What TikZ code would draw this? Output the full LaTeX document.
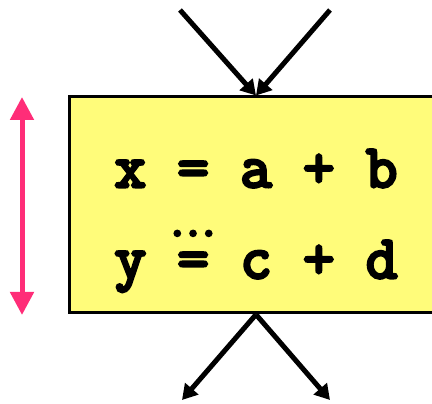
\documentclass[tikz,border=0pt]{standalone}
\usepackage{fontspec}
\setmonofont{Latin Modern Mono}[BoldFont={Latin Modern Mono},BoldFeatures={FakeBold=5}]
\usepackage{tikz}
\usetikzlibrary{positioning,arrows.meta}
\definecolor{cBox}{RGB}{255,252,122}
\definecolor{cSpan}{RGB}{255,45,120}

\begin{document}
\begin{tikzpicture}[x=1pt,y=1pt]
\tikzset{
 blk/.style={draw,line width=3pt,fill=cBox,minimum width=374pt,minimum height=216pt,inner sep=0},
 code/.style={font=\fontsize{61}{66}\selectfont\ttfamily\bfseries,inner sep=0,anchor=base},
 ar/.style={-{Triangle[length=15pt,width=17pt]},line width=5pt},
 span/.style={{Triangle[length=23pt,width=23pt]}-{Triangle[length=23pt,width=23pt]},line width=5pt,cSpan}
}
\clip (0,0) rectangle (432,404);
\node[blk] (b) at (256,199) {};
\node[code] (l1) at (256,217) {x = a + b};
\node[code,font=\fontsize{46}{50}\selectfont\ttfamily\bfseries] (dd) at (193,168) {.\kern-8pt.\kern-8pt.};
\node[code] (l2) at (256,126) {y = c + d};
\coordinate (i1) at (180,394);
\coordinate (i2) at (330,394);
\coordinate (o1) at (182,4);
\coordinate (o2) at (330,4);
\draw[ar] (i1)--(b.north); \draw[ar] (i2)--(b.north);
\draw[ar] (b.south)--(o1); \draw[ar] (b.south)--(o2);
\coordinate (t) at (22,307);
\coordinate (u) at (22,89);
\draw[span] (t)--(u);
\end{tikzpicture}
\end{document}
